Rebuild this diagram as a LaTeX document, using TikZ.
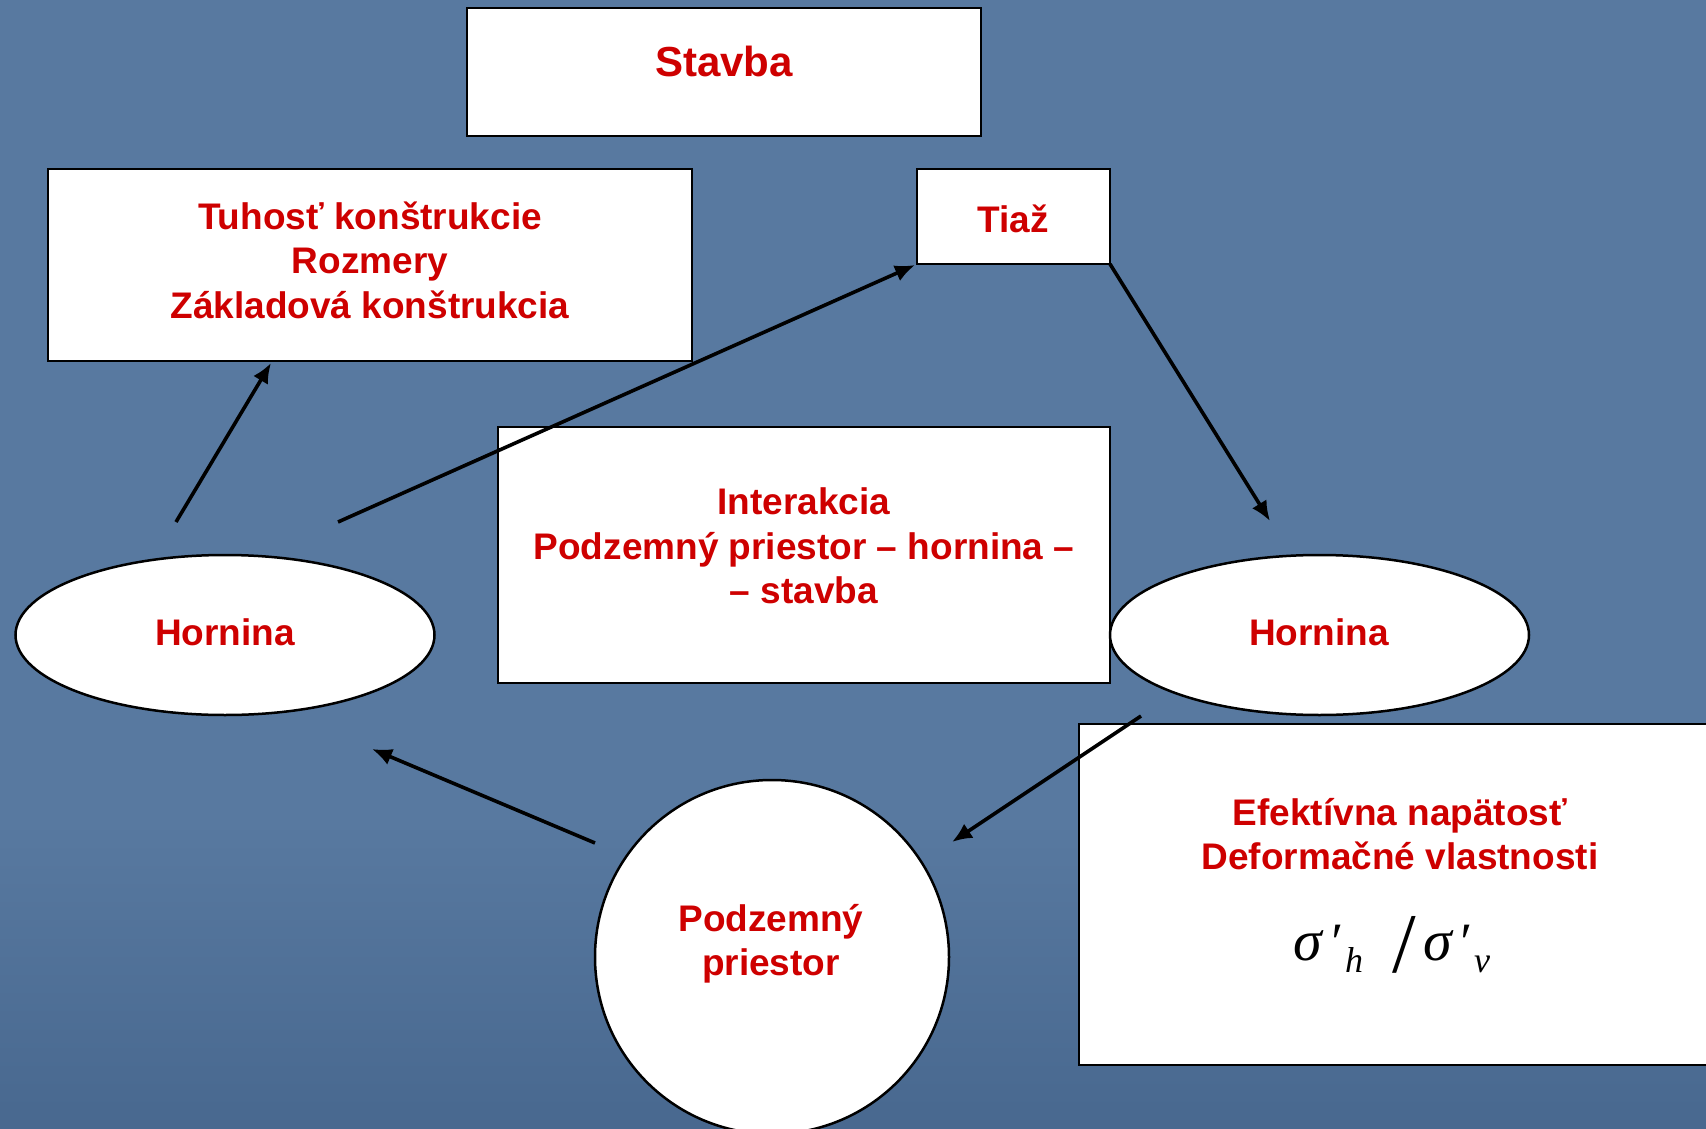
\documentclass[tikz,border=0pt]{standalone}
\usepackage{fontspec}
\setmainfont{Liberation Sans}
\newfontfamily\tms{Liberation Serif}
\usetikzlibrary{shapes.geometric,arrows.meta}
\definecolor{txtred}{RGB}{206,0,0}
\definecolor{bgtop}{RGB}{88,121,160}
\definecolor{bgbot}{RGB}{72,104,143}
\begin{document}
\begin{tikzpicture}[x=1pt,y=-1pt,
  boxst/.style={draw=black, line width=2.5pt, fill=white, inner sep=0pt, rectangle},
  ellst/.style={draw=black, line width=2.5pt, fill=white, inner sep=0pt, ellipse},
  lbl/.style={text=txtred, font=\bfseries\fontsize{37}{44.5}\selectfont, align=center, inner sep=0pt},
  arr/.style={line width=3.6pt, -{Latex[length=20pt,width=17pt]}}]
\useasboundingbox (0,0) rectangle (1706,1129);
\fill[bgtop] (0,0) rectangle (1706,1129);
\shade[top color=bgtop, bottom color=bgbot] (0,820) rectangle (1706,1129);

% boxes
\node[boxst, minimum width=514pt, minimum height=128pt] (stavba) at (724,72) {};
\node[boxst, minimum width=644pt, minimum height=192pt] (tuhost) at (370,265) {};
\node[boxst, minimum width=193pt, minimum height=95pt] (tiaz) at (1013.5,216.5) {};
\node[boxst, minimum width=612pt, minimum height=256pt] (inter) at (804,555) {};
\node[boxst, minimum width=641pt, minimum height=341pt] (efekt) at (1399.5,894.5) {};
\node[ellst, minimum width=419pt, minimum height=160pt] (hornL) at (225,635) {};
\node[ellst, minimum width=419pt, minimum height=160pt] (hornR) at (1319.5,635) {};
\node[draw=black, line width=2.5pt, fill=white, circle, inner sep=0pt, minimum size=354pt] (podz) at (772,957) {};

% texts
\node[lbl, font=\bfseries\fontsize{42}{48}\selectfont] (tStavba) at (724,61) {Stavba};
\node[lbl] (tTuhost) at (370,260) {Tuhosť konštrukcie\\Rozmery\\Základová konštrukcia};
\node[lbl] (tTiaz) at (1013,219) {Tiaž};
\node[lbl] (tInter) at (804,546) {Interakcia\\Podzemný priestor – hornina –\\– stavba};
\node[lbl] (tHornL) at (225,632) {Hornina};
\node[lbl] (tHornR) at (1319,632) {Hornina};
\node[lbl] (tPodz) at (771,944) {Podzemný\\priestor};
\node[lbl] (tEfekt) at (1400,834) {Efektívna napätosť\\Deformačné vlastnosti};
\node[anchor=base west, inner sep=0pt] (sigma) at (1293,960) {\tms\itshape
  \rlap{\fontsize{58}{58}\selectfont σ}%
  \kern35pt\rlap{\fontsize{54}{54}\selectfont ′}%
  \kern17pt\rlap{\raisebox{-12pt}{\fontsize{36}{36}\selectfont h}}%
  \kern47pt\rlap{\raisebox{-12pt}{\upshape\fontsize{85}{85}\selectfont /}}%
  \kern31pt\rlap{\fontsize{58}{58}\selectfont σ}%
  \kern34pt\rlap{\fontsize{54}{54}\selectfont ′}%
  \kern17pt{\raisebox{-12pt}{\fontsize{36}{36}\selectfont v}}};

% arrow end points
\coordinate (a1s) at (176,522);
\coordinate (a1e) at (271,363);
\coordinate (a2s) at (338,522);
\coordinate (a2e) at (915,265);
\coordinate (a3s) at (1110,264);
\coordinate (a3e) at (1270,521);
\coordinate (a4s) at (1141,716);
\coordinate (a4e) at (952,842);
\coordinate (a5s) at (595,843);
\coordinate (a5e) at (372,749);

\draw[arr] (a1s) -- (a1e);
\draw[arr] (a2s) -- (a2e);
\draw[arr] (a3s) -- (a3e);
\draw[arr] (a4s) -- (a4e);
\draw[arr] (a5s) -- (a5e);
\end{tikzpicture}
\end{document}
